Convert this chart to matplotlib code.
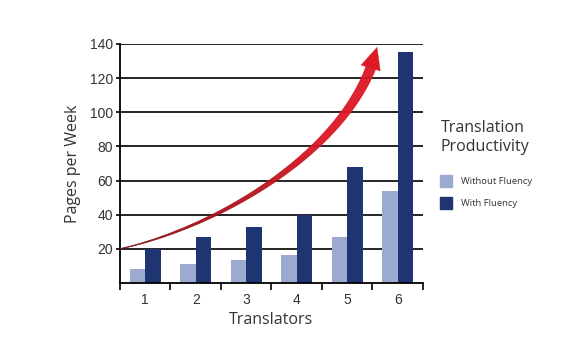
import numpy as np
import matplotlib
matplotlib.use("Agg")
import matplotlib.pyplot as plt
from matplotlib.collections import PolyCollection
from matplotlib.patches import Polygon
from matplotlib.transforms import IdentityTransform

translators = ["1", "2", "3", "4", "5", "6"]
without_fluency = [8, 11, 13.5, 16.5, 27, 54]
with_fluency = [20, 27, 33, 40, 68, 135.5]
y_ticks = [20, 40, 60, 80, 100, 120, 140]

light = "#9daacf"
dark = "#1f3572"
txt = "#333333"

fig = plt.figure(figsize=(5.76, 3.48), dpi=100)
ax = fig.add_axes([0.2083, 0.1868, 0.526, 0.6868])

x = np.arange(len(translators))
w = 0.31
ax.bar(x - w / 2, without_fluency, w, color=light, zorder=3)
ax.bar(x + w / 2, with_fluency, w, color=dark, zorder=3)

ax.set_xlim(-0.5, 5.5)
ax.set_ylim(0, 140)
ax.set_yticks(y_ticks)
ax.set_xticks(x)
ax.set_xticklabels(translators)
ax.set_xticks(np.arange(-0.5, 6, 1), minor=True)
ax.tick_params(axis="x", which="major", length=0, pad=7, labelsize=10, labelcolor=txt)
ax.tick_params(axis="x", which="minor", length=5, width=1.2, direction="out")
ax.tick_params(axis="y", length=3, width=1.2, pad=2, labelsize=10, labelcolor=txt)
for lab in ax.get_xticklabels() + ax.get_yticklabels():
    lab.set_family("Liberation Sans")
ax.yaxis.grid(True, color="black", linewidth=1.2, zorder=1)
ax.set_axisbelow(True)
for s in ["top", "right"]:
    ax.spines[s].set_visible(False)
for s in ["left", "bottom"]:
    ax.spines[s].set_linewidth(1.3)
    ax.spines[s].set_zorder(4)

ax.set_ylabel("Pages per Week", fontsize=11.5, color=txt, family="Open Sans", labelpad=6)
ax.set_xlabel("Translators", fontsize=11.5, color=txt, family="Open Sans", labelpad=4)

# red growth arrow (cubic bezier, tapered, gradient)
P = np.array([[-0.5, 20], [1.5, 33], [4.15, 80], [4.59, 138]])
t = np.linspace(0, 1, 300)[:, None]
curve = ((1 - t) ** 3 * P[0] + 3 * (1 - t) ** 2 * t * P[1]
         + 3 * (1 - t) * t ** 2 * P[2] + t ** 3 * P[3])
fig.canvas.draw()
pts = ax.transData.transform(curve)
d = np.cumsum(np.r_[0, np.hypot(*np.diff(pts, axis=0).T)])
head_len = 21
shaft = pts[d <= d[-1] - head_len + 3]
tang = np.gradient(shaft, axis=0)
tang /= np.hypot(tang[:, 0], tang[:, 1])[:, None]
norm = np.c_[-tang[:, 1], tang[:, 0]]
frac = np.linspace(0, 1, len(shaft))
half = 0.3 + 4.8 * frac ** 1.2
upper = shaft + norm * half[:, None]
lower = shaft - norm * half[:, None]
polys = [np.array([upper[i], upper[i + 1], lower[i + 1], lower[i]])
         for i in range(len(shaft) - 1)]
c0 = np.array([0.50, 0.06, 0.08])
c1 = np.array([0.86, 0.10, 0.15])
cols = [tuple(c0 + (c1 - c0) * min(1, f * 1.4)) for f in frac[:-1]]
pc = PolyCollection(polys, facecolors=cols, edgecolors=cols, linewidths=0.3,
                    transform=IdentityTransform(), zorder=5)
ax.add_collection(pc)
tip = pts[-1]
base = pts[d <= d[-1] - head_len][-1]
dv = (tip - base) / np.hypot(*(tip - base))
nv = np.array([-dv[1], dv[0]])
head = Polygon([base + nv * 10, tip, base - nv * 10],
               closed=True, facecolor=tuple(c1), edgecolor=tuple(c1),
               linewidth=0.3, transform=IdentityTransform(), zorder=6)
ax.add_patch(head)

# legend
fig.text(0.765, 0.605, "Translation\nProductivity", fontsize=11.5, color=txt,
         family="Open Sans", va="center", ha="left", linespacing=1.2)
sq_w, sq_h = 12 / 576, 12 / 348
for i, (lab, col) in enumerate([("Without Fluency", light), ("With Fluency", dark)]):
    yb = 1 - (187 + i * 22) / 348
    fig.patches.append(plt.Rectangle((440 / 576, yb), sq_w, sq_h, color=col,
                                     transform=fig.transFigure, figure=fig))
    fig.text(461 / 576, yb + sq_h / 2, lab, fontsize=6.8, color=txt,
             family="Open Sans", va="center", ha="left")

fig.savefig("out.png", dpi=100)
